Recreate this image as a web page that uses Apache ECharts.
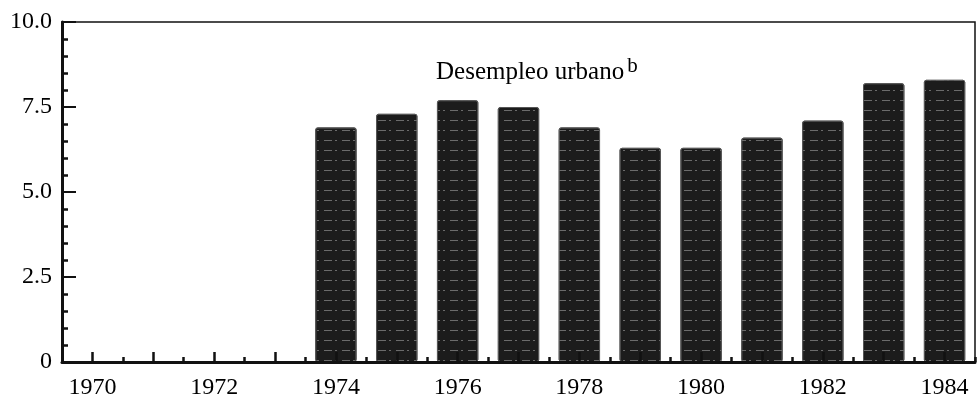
<!doctype html>
<html lang="es">
<head>
    <meta charset="UTF-8">
    <title>Desempleo urbano</title>
    <script src="https://cdn.jsdelivr.net/npm/echarts@6/dist/echarts.min.js"></script>
    <style>
        html, body { margin: 0; padding: 0; background: #fff; }
    </style>
</head>
<body>

<div id="chart" style="width: 980px;height: 404px;"></div>
<script type="text/javascript">
    // años del eje horizontal
    let years = ['1970', '1971', '1972', '1973', '1974', '1975', '1976', '1977',
                 '1978', '1979', '1980', '1981', '1982', '1983', '1984'];
    // desempleo urbano (%), sin dato antes de 1974
    let unemployment = [null, null, null, null, 6.9, 7.3, 7.7, 7.5,
                        6.9, 6.3, 6.3, 6.6, 7.1, 8.2, 8.3];

    let serif = '"Liberation Serif", "DejaVu Serif", serif';
    let newChart = echarts.init(document.getElementById("chart"));
    newChart.setOption({
        animation: false,
        backgroundColor: '#fff',
        title: {
            text: '{a|Desempleo urbano}{b|b}',
            left: 431,
            top: 51,
            textStyle: {
                fontWeight: 'normal',
                rich: {
                    a: { fontFamily: serif, fontSize: 25, fontWeight: 'normal', color: '#000' },
                    b: { fontFamily: serif, fontSize: 21, fontWeight: 'normal', color: '#000', verticalAlign: 'top', padding: [0, 0, 12, 3] }
                }
            }
        },
        grid: {
            left: 62, right: 5, top: 22, bottom: 42,
            show: true,
            borderColor: '#111',
            borderWidth: 1.5
        },
        xAxis: [
            {
                type: 'category',
                data: years,
                boundaryGap: true,
                axisLine: { show: true, lineStyle: { color: '#111', width: 3 } },
                axisTick: { show: true, inside: true, alignWithLabel: true, interval: 0, length: 10, lineStyle: { color: '#111', width: 2.5 } },
                axisLabel: { show: true, interval: 1, margin: 14, fontFamily: serif, fontSize: 24, color: '#000' },
                z: 5
            },
            {
                // marcas menores entre años
                type: 'category',
                data: years,
                position: 'bottom',
                boundaryGap: true,
                axisLine: { show: false },
                axisTick: { show: true, inside: true, interval: 0, length: 5, lineStyle: { color: '#111', width: 2.5 } },
                axisLabel: { show: false },
                z: 5
            }
        ],
        yAxis: {
            type: 'value',
            min: 0,
            max: 10,
            interval: 2.5,
            splitLine: { show: false },
            axisLine: { show: true, lineStyle: { color: '#111', width: 3 } },
            axisTick: { show: true, inside: true, length: 14, lineStyle: { color: '#111', width: 2 } },
            minorTick: { show: true, splitNumber: 5, length: 6, lineStyle: { color: '#111', width: 2.5 } },
            axisLabel: {
                margin: 10,
                fontFamily: serif,
                fontSize: 24,
                color: '#000',
                formatter: function (v) {
                    return v === 0 ? '0' : v.toFixed(1);
                }
            }
        },
        series: [
            {
                name: 'Desempleo urbano',
                type: 'bar',
                data: unemployment,
                barWidth: '68%',
                itemStyle: {
                    color: '#1c1c1c',
                    borderColor: '#555',
                    borderWidth: 1,
                    borderRadius: 2,
                    decal: {
                        symbol: 'rect',
                        symbolSize: 1,
                        dashArrayX: [[8, 3, 2, 5]],
                        dashArrayY: [1, 9],
                        rotation: 0,
                        color: 'rgba(255,255,255,0.35)'
                    }
                }
            }
        ]
    });
</script>
</body>
</html>
